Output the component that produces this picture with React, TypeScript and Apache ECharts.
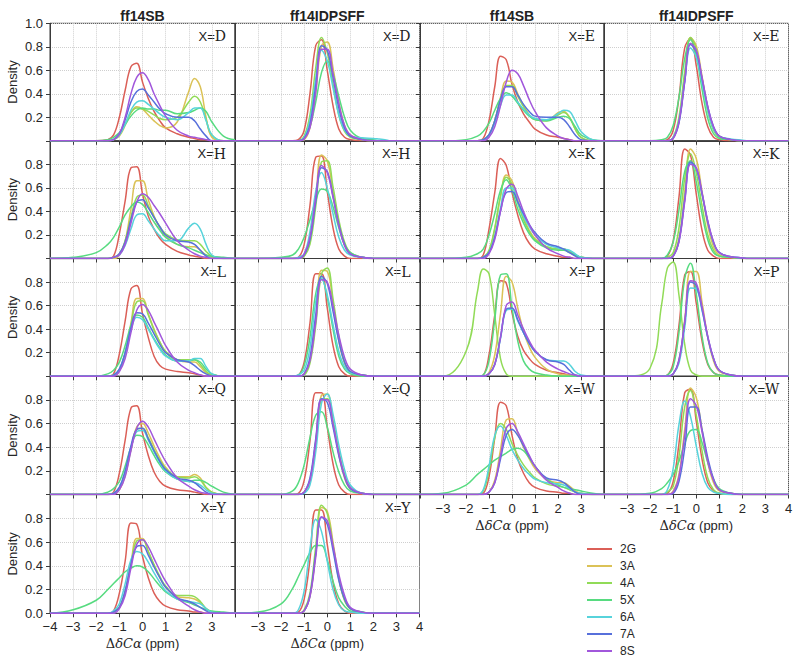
import React, { useEffect, useRef } from "react";
import * as echarts from "echarts";

// x grid (ppm) on which the density curves were read
const GX = [-4, -3, -2, -1.5, -1.25, -1, -0.75, -0.5, -0.25, 0, 0.25, 0.5, 0.75, 1, 1.5, 2, 2.25, 2.5, 2.75, 3, 3.5, 4];
const SERIES_NAMES = ["2G", "3A", "4A", "5X", "6A", "7A", "8S"];
const COLORS = ["#db5f57", "#dbc257", "#91db57", "#57db80", "#57d3db", "#5770db", "#a157db"];
const COLUMN_TITLES = ["ff14SB", "ff14IDPSFF", "ff14SB", "ff14IDPSFF"];
const X_TICKS = [-4, -3, -2, -1, 0, 1, 2, 3, 4];
const Y_TICKS = [0, 0.2, 0.4, 0.6, 0.8, 1.0];

// each: 7 curves in order 2G,3A,4A,5X,6A,7A,8S
const D_SB = [
  [0,0,0,0.01,0.05,0.2,0.43,0.63,0.66,0.5,0.36,0.25,0.17,0.11,0.06,0.03,0.02,0.01,0.01,0,0,0],
  [0,0,0,0,0.01,0.04,0.13,0.24,0.29,0.27,0.22,0.17,0.13,0.11,0.16,0.42,0.53,0.46,0.2,0.03,0,0],
  [0,0,0,0,0.01,0.05,0.14,0.24,0.28,0.27,0.25,0.22,0.19,0.18,0.2,0.33,0.38,0.33,0.18,0.05,0,0],
  [0,0,0,0.01,0.03,0.07,0.14,0.21,0.26,0.28,0.27,0.27,0.26,0.26,0.23,0.24,0.26,0.28,0.25,0.16,0.04,0.01],
  [0,0,0,0,0.01,0.05,0.14,0.26,0.33,0.34,0.31,0.27,0.23,0.2,0.18,0.24,0.28,0.28,0.17,0.05,0,0],
  [0,0,0,0,0.01,0.06,0.18,0.33,0.42,0.44,0.39,0.33,0.27,0.23,0.2,0.2,0.17,0.1,0.04,0,0,0],
  [0,0,0,0,0.01,0.06,0.2,0.4,0.54,0.58,0.52,0.4,0.3,0.21,0.09,0.04,0.03,0.02,0.01,0,0,0],
];
const D_IDP = [
  [0,0,0,0,0.01,0.09,0.4,0.81,0.86,0.6,0.3,0.1,0.03,0.01,0,0,0,0,0,0,0,0],
  [0,0,0,0,0,0.01,0.11,0.41,0.81,0.84,0.62,0.33,0.13,0.05,0.01,0,0,0,0,0,0,0],
  [0,0,0,0,0,0.04,0.22,0.62,0.88,0.75,0.48,0.22,0.08,0.03,0.01,0,0,0,0,0,0,0],
  [0,0,0,0,0,0.03,0.12,0.33,0.58,0.68,0.57,0.38,0.2,0.09,0.02,0.01,0,0,0,0,0,0],
  [0,0,0,0,0,0.03,0.18,0.53,0.77,0.68,0.45,0.22,0.09,0.04,0.025,0.02,0.015,0.01,0,0,0,0],
  [0,0,0,0,0,0.02,0.14,0.47,0.81,0.77,0.54,0.28,0.11,0.04,0.01,0,0,0,0,0,0,0],
  [0,0,0,0,0,0.015,0.11,0.41,0.78,0.78,0.57,0.32,0.13,0.05,0.01,0,0,0,0,0,0,0],
];
const E_SB = [
  [0,0,0,0,0.02,0.17,0.46,0.72,0.69,0.48,0.33,0.23,0.16,0.1,0.05,0.03,0.02,0.01,0,0,0,0],
  [0,0,0,0,0.01,0.05,0.17,0.37,0.51,0.5,0.4,0.3,0.22,0.18,0.17,0.24,0.25,0.2,0.1,0.03,0,0],
  [0,0,0,0,0.01,0.05,0.17,0.35,0.47,0.47,0.38,0.29,0.22,0.18,0.17,0.22,0.24,0.2,0.1,0.03,0,0],
  [0,0,0.01,0.04,0.08,0.15,0.26,0.36,0.41,0.38,0.32,0.26,0.21,0.18,0.17,0.2,0.21,0.19,0.12,0.05,0.01,0],
  [0,0,0,0,0.01,0.05,0.15,0.3,0.39,0.39,0.33,0.27,0.22,0.19,0.18,0.23,0.26,0.25,0.17,0.08,0.01,0],
  [0,0,0,0,0.01,0.05,0.17,0.35,0.46,0.46,0.39,0.31,0.25,0.21,0.2,0.2,0.18,0.12,0.05,0.01,0,0],
  [0,0,0,0,0,0.03,0.12,0.3,0.5,0.6,0.57,0.47,0.35,0.25,0.11,0.04,0.02,0.01,0,0,0,0],
];
const E_IDP = [
  [0,0,0,0,0.01,0.09,0.37,0.79,0.87,0.64,0.32,0.12,0.03,0.01,0,0,0,0,0,0,0,0],
  [0,0,0,0,0,0.03,0.17,0.54,0.88,0.81,0.55,0.28,0.11,0.04,0.01,0,0,0,0,0,0,0],
  [0,0,0,0,0,0.03,0.2,0.59,0.88,0.78,0.51,0.25,0.09,0.03,0.01,0,0,0,0,0,0,0],
  [0,0,0,0.01,0.03,0.13,0.37,0.7,0.86,0.72,0.44,0.19,0.06,0.02,0.01,0,0,0,0,0,0,0],
  [0,0,0,0,0,0.03,0.17,0.51,0.79,0.71,0.49,0.26,0.1,0.04,0.015,0.005,0,0,0,0,0,0],
  [0,0,0,0,0,0.02,0.15,0.5,0.82,0.76,0.53,0.29,0.12,0.04,0.01,0,0,0,0,0,0,0],
  [0,0,0,0,0,0.02,0.16,0.51,0.83,0.77,0.54,0.29,0.12,0.04,0.01,0,0,0,0,0,0,0],
];
const H_SB = [
  [0,0,0,0,0.02,0.21,0.49,0.77,0.78,0.55,0.36,0.25,0.17,0.12,0.06,0.03,0.02,0.01,0,0,0,0],
  [0,0,0,0,0,0.03,0.15,0.42,0.66,0.66,0.5,0.36,0.26,0.19,0.12,0.1,0.1,0.07,0.03,0.01,0,0],
  [0,0,0,0,0.01,0.04,0.15,0.35,0.52,0.54,0.45,0.35,0.27,0.21,0.16,0.15,0.15,0.12,0.06,0.02,0,0],
  [0,0.01,0.05,0.12,0.18,0.27,0.37,0.44,0.48,0.46,0.39,0.31,0.24,0.18,0.12,0.09,0.07,0.05,0.03,0.02,0.01,0],
  [0,0,0,0,0.01,0.03,0.11,0.25,0.37,0.38,0.32,0.25,0.19,0.15,0.15,0.26,0.3,0.25,0.12,0.03,0,0],
  [0,0,0,0,0.01,0.04,0.14,0.33,0.48,0.5,0.43,0.35,0.27,0.2,0.15,0.14,0.12,0.07,0.02,0,0,0],
  [0,0,0,0,0.01,0.03,0.12,0.3,0.48,0.55,0.52,0.45,0.38,0.3,0.15,0.07,0.04,0.02,0.01,0,0,0],
];
const H_IDP = [
  [0,0,0,0,0.01,0.12,0.45,0.86,0.87,0.57,0.26,0.08,0.02,0,0,0,0,0,0,0,0,0],
  [0,0,0,0,0,0.02,0.15,0.51,0.88,0.83,0.57,0.29,0.11,0.04,0.01,0,0,0,0,0,0,0],
  [0,0,0,0,0,0.02,0.12,0.44,0.82,0.83,0.61,0.33,0.14,0.05,0.01,0,0,0,0,0,0,0],
  [0,0,0.01,0.03,0.08,0.18,0.33,0.49,0.59,0.57,0.44,0.26,0.12,0.05,0.01,0,0,0,0,0,0,0],
  [0,0,0,0,0.01,0.04,0.23,0.57,0.73,0.6,0.38,0.18,0.07,0.03,0.01,0,0,0,0,0,0,0],
  [0,0,0,0,0,0.03,0.16,0.48,0.77,0.74,0.53,0.29,0.12,0.04,0.01,0,0,0,0,0,0,0],
  [0,0,0,0,0,0.04,0.18,0.52,0.79,0.73,0.52,0.28,0.11,0.04,0.01,0,0,0,0,0,0,0],
];
const K_SB = [
  [0,0,0,0,0.03,0.25,0.56,0.85,0.79,0.56,0.37,0.22,0.13,0.08,0.04,0.02,0.01,0.01,0,0,0,0],
  [0,0,0,0,0.01,0.06,0.25,0.53,0.71,0.66,0.5,0.35,0.24,0.17,0.1,0.08,0.08,0.06,0.03,0.01,0,0],
  [0,0,0,0,0.01,0.07,0.26,0.53,0.69,0.63,0.47,0.33,0.23,0.16,0.1,0.08,0.08,0.06,0.03,0.01,0,0],
  [0,0,0.01,0.04,0.08,0.2,0.38,0.58,0.67,0.58,0.42,0.3,0.21,0.15,0.09,0.07,0.07,0.05,0.03,0.01,0,0],
  [0,0,0,0,0.01,0.05,0.19,0.43,0.6,0.6,0.48,0.36,0.27,0.2,0.12,0.09,0.08,0.07,0.04,0.01,0,0],
  [0,0,0,0,0.01,0.05,0.18,0.4,0.56,0.57,0.48,0.38,0.29,0.22,0.13,0.1,0.08,0.05,0.02,0,0,0],
  [0,0,0,0,0,0.04,0.16,0.4,0.59,0.63,0.53,0.4,0.29,0.2,0.09,0.04,0.02,0.01,0,0,0,0],
];
const K_IDP = [
  [0,0,0,0,0.02,0.15,0.52,0.93,0.88,0.55,0.24,0.07,0.02,0,0,0,0,0,0,0,0,0],
  [0,0,0,0,0,0.03,0.17,0.57,0.93,0.85,0.57,0.28,0.1,0.03,0.01,0,0,0,0,0,0,0],
  [0,0,0,0,0.01,0.05,0.26,0.68,0.89,0.73,0.45,0.2,0.07,0.02,0.01,0,0,0,0,0,0,0],
  [0,0,0,0,0.03,0.14,0.41,0.74,0.83,0.65,0.38,0.16,0.05,0.02,0.01,0,0,0,0,0,0,0],
  [0,0,0,0,0,0.02,0.15,0.5,0.81,0.76,0.55,0.31,0.13,0.05,0.015,0.005,0,0,0,0,0,0],
  [0,0,0,0,0,0.02,0.15,0.5,0.82,0.77,0.55,0.31,0.14,0.05,0.015,0.005,0,0,0,0,0,0],
  [0,0,0,0,0,0.02,0.14,0.48,0.8,0.77,0.56,0.32,0.14,0.05,0.015,0.005,0,0,0,0,0,0],
];
const L_SB = [
  [0,0,0,0,0.02,0.19,0.47,0.74,0.77,0.53,0.33,0.17,0.09,0.06,0.04,0.03,0.02,0.01,0,0,0,0],
  [0,0,0,0,0.01,0.05,0.2,0.45,0.66,0.66,0.53,0.4,0.29,0.21,0.14,0.12,0.12,0.08,0.03,0.01,0,0],
  [0,0,0,0,0.01,0.05,0.19,0.43,0.63,0.64,0.52,0.39,0.29,0.21,0.14,0.14,0.14,0.1,0.04,0.01,0,0],
  [0,0,0,0.02,0.05,0.12,0.26,0.43,0.52,0.5,0.41,0.32,0.24,0.18,0.13,0.13,0.14,0.12,0.06,0.02,0,0],
  [0,0,0,0,0.01,0.06,0.2,0.39,0.5,0.48,0.4,0.31,0.23,0.17,0.13,0.13,0.15,0.15,0.08,0.02,0,0],
  [0,0,0,0,0.01,0.06,0.2,0.41,0.54,0.53,0.45,0.36,0.27,0.2,0.14,0.12,0.09,0.05,0.02,0,0,0],
  [0,0,0,0,0,0.04,0.15,0.37,0.56,0.61,0.56,0.46,0.36,0.26,0.12,0.05,0.03,0.01,0,0,0,0],
];
const L_IDP = [
  [0,0,0,0,0.01,0.12,0.45,0.87,0.87,0.58,0.26,0.08,0.02,0,0,0,0,0,0,0,0,0],
  [0,0,0,0,0,0.02,0.13,0.48,0.9,0.89,0.62,0.3,0.11,0.03,0.01,0,0,0,0,0,0,0],
  [0,0,0,0,0,0.01,0.11,0.43,0.87,0.92,0.66,0.34,0.12,0.04,0.01,0,0,0,0,0,0,0],
  [0,0,0,0,0.01,0.09,0.33,0.7,0.83,0.67,0.4,0.17,0.06,0.02,0,0,0,0,0,0,0,0],
  [0,0,0,0,0.01,0.05,0.24,0.63,0.83,0.69,0.44,0.21,0.08,0.03,0.01,0,0,0,0,0,0,0],
  [0,0,0,0,0,0.02,0.16,0.52,0.85,0.79,0.55,0.3,0.12,0.04,0.01,0,0,0,0,0,0,0],
  [0,0,0,0,0,0.02,0.13,0.46,0.82,0.8,0.6,0.35,0.16,0.06,0.01,0,0,0,0,0,0,0],
];
const P_SB = [
  [0,0,0,0,0.01,0.18,0.52,0.81,0.79,0.54,0.34,0.22,0.15,0.1,0.05,0.03,0.02,0.01,0,0,0,0],
  [0,0,0,0,0,0.03,0.18,0.53,0.85,0.8,0.58,0.38,0.25,0.16,0.06,0.02,0.01,0.01,0,0,0,0],
  [0,0,0.21,0.72,0.91,0.87,0.52,0.15,0.02,0,0,0,0,0,0,0,0,0,0,0,0,0],
  [0,0,0,0,0.01,0.13,0.48,0.86,0.87,0.58,0.3,0.13,0.06,0.03,0.01,0,0,0,0,0,0,0],
  [0,0,0,0,0,0.02,0.1,0.32,0.56,0.57,0.47,0.37,0.28,0.21,0.14,0.13,0.13,0.1,0.04,0.01,0,0],
  [0,0,0,0,0,0.02,0.1,0.33,0.57,0.58,0.48,0.37,0.28,0.21,0.14,0.12,0.1,0.05,0.01,0,0,0],
  [0,0,0,0,0,0.02,0.1,0.33,0.6,0.63,0.52,0.4,0.3,0.22,0.12,0.06,0.04,0.02,0.01,0,0,0],
];
const P_IDP = [
  [0,0,0,0,0.01,0.11,0.43,0.86,0.89,0.62,0.3,0.1,0.03,0.01,0,0,0,0,0,0,0,0],
  [0,0,0,0,0,0.02,0.13,0.48,0.89,0.89,0.63,0.33,0.13,0.04,0.01,0,0,0,0,0,0,0],
  [0,0,0.07,0.61,0.92,0.97,0.69,0.27,0.05,0.01,0,0,0,0,0,0,0,0,0,0,0,0],
  [0,0,0,0,0.01,0.08,0.37,0.83,0.96,0.7,0.34,0.11,0.03,0.01,0,0,0,0,0,0,0,0],
  [0,0,0,0,0,0.02,0.11,0.41,0.75,0.74,0.56,0.33,0.15,0.05,0.01,0,0,0,0,0,0,0],
  [0,0,0,0,0,0.02,0.14,0.46,0.8,0.77,0.57,0.33,0.15,0.05,0.01,0,0,0,0,0,0,0],
  [0,0,0,0,0,0.02,0.13,0.46,0.81,0.79,0.59,0.34,0.15,0.05,0.01,0,0,0,0,0,0,0],
];
const Q_SB = [
  [0,0,0,0,0.02,0.18,0.46,0.73,0.75,0.52,0.33,0.19,0.11,0.07,0.04,0.03,0.02,0.01,0,0,0,0],
  [0,0,0,0,0.01,0.04,0.16,0.38,0.57,0.6,0.52,0.41,0.31,0.23,0.15,0.15,0.17,0.14,0.06,0.02,0,0],
  [0,0,0,0,0.01,0.05,0.17,0.38,0.55,0.56,0.48,0.38,0.29,0.22,0.15,0.14,0.15,0.12,0.06,0.02,0,0],
  [0,0,0,0.02,0.05,0.11,0.24,0.4,0.5,0.49,0.42,0.33,0.25,0.19,0.13,0.11,0.12,0.12,0.1,0.07,0.02,0],
  [0,0,0,0,0.01,0.06,0.19,0.39,0.53,0.54,0.46,0.36,0.27,0.2,0.13,0.11,0.1,0.08,0.04,0.01,0,0],
  [0,0,0,0,0.01,0.06,0.2,0.41,0.55,0.56,0.47,0.37,0.28,0.21,0.14,0.12,0.1,0.06,0.02,0,0,0],
  [0,0,0,0,0,0.04,0.15,0.37,0.56,0.62,0.57,0.47,0.37,0.28,0.14,0.07,0.04,0.02,0.01,0,0,0],
];
const Q_IDP = [
  [0,0,0,0,0.01,0.12,0.45,0.86,0.86,0.57,0.26,0.08,0.02,0,0,0,0,0,0,0,0,0],
  [0,0,0,0,0,0.02,0.12,0.45,0.84,0.85,0.62,0.34,0.14,0.05,0.01,0,0,0,0,0,0,0],
  [0,0,0,0,0,0.02,0.11,0.43,0.8,0.81,0.62,0.37,0.17,0.06,0.01,0,0,0,0,0,0,0],
  [0,0,0,0.03,0.1,0.25,0.48,0.67,0.7,0.57,0.36,0.19,0.08,0.03,0.01,0,0,0,0,0,0,0],
  [0,0,0,0,0,0.01,0.08,0.36,0.77,0.85,0.68,0.42,0.21,0.08,0.01,0,0,0,0,0,0,0],
  [0,0,0,0,0,0.02,0.14,0.47,0.81,0.78,0.57,0.33,0.15,0.05,0.01,0,0,0,0,0,0,0],
  [0,0,0,0,0,0.02,0.12,0.44,0.8,0.8,0.6,0.35,0.16,0.06,0.01,0,0,0,0,0,0,0],
];
const W_SB = [
  [0,0,0,0,0.01,0.15,0.48,0.78,0.75,0.5,0.3,0.18,0.1,0.06,0.03,0.02,0.01,0.01,0,0,0,0],
  [0,0,0,0,0,0.02,0.12,0.38,0.63,0.64,0.52,0.4,0.3,0.22,0.13,0.1,0.1,0.07,0.03,0.01,0,0],
  [0,0,0,0,0.03,0.2,0.48,0.6,0.55,0.43,0.33,0.25,0.19,0.14,0.09,0.07,0.06,0.04,0.02,0.01,0,0],
  [0,0.01,0.08,0.17,0.21,0.25,0.29,0.32,0.35,0.38,0.39,0.37,0.31,0.24,0.13,0.08,0.06,0.05,0.04,0.03,0.01,0],
  [0,0,0,0,0.04,0.24,0.5,0.58,0.5,0.38,0.29,0.22,0.17,0.13,0.1,0.09,0.08,0.05,0.02,0.01,0,0],
  [0,0,0,0,0,0.02,0.1,0.3,0.5,0.55,0.5,0.41,0.32,0.24,0.14,0.12,0.1,0.06,0.02,0,0,0],
  [0,0,0,0,0,0.02,0.1,0.33,0.56,0.6,0.53,0.43,0.33,0.24,0.12,0.06,0.03,0.01,0,0,0,0],
];
const W_IDP = [
  [0,0,0,0,0.01,0.11,0.43,0.86,0.89,0.62,0.3,0.1,0.03,0.01,0,0,0,0,0,0,0,0],
  [0,0,0,0,0,0.03,0.17,0.55,0.9,0.82,0.55,0.27,0.1,0.03,0.01,0,0,0,0,0,0,0],
  [0,0,0,0,0.02,0.07,0.32,0.74,0.88,0.67,0.37,0.14,0.04,0.01,0,0,0,0,0,0,0,0],
  [0,0,0.01,0.05,0.1,0.17,0.28,0.43,0.54,0.55,0.44,0.27,0.13,0.05,0.01,0,0,0,0,0,0,0],
  [0,0,0,0,0.04,0.22,0.59,0.79,0.66,0.41,0.18,0.06,0.02,0.01,0,0,0,0,0,0,0,0],
  [0,0,0,0,0,0.01,0.11,0.39,0.74,0.74,0.55,0.31,0.13,0.04,0.01,0,0,0,0,0,0,0],
  [0,0,0,0,0,0.02,0.15,0.5,0.81,0.75,0.53,0.28,0.12,0.04,0.01,0,0,0,0,0,0,0],
];
const Y_SB = [
  [0,0,0,0,0.02,0.17,0.44,0.76,0.75,0.48,0.3,0.17,0.1,0.06,0.03,0.02,0.01,0.01,0,0,0,0],
  [0,0,0,0,0.01,0.05,0.18,0.42,0.63,0.63,0.52,0.4,0.3,0.22,0.14,0.13,0.12,0.09,0.04,0.01,0,0],
  [0,0,0,0,0.01,0.05,0.18,0.41,0.61,0.62,0.52,0.41,0.31,0.23,0.15,0.15,0.14,0.1,0.04,0.01,0,0],
  [0,0.03,0.11,0.2,0.25,0.3,0.35,0.38,0.4,0.39,0.35,0.29,0.23,0.18,0.12,0.09,0.07,0.05,0.03,0.02,0.01,0],
  [0,0,0,0,0.02,0.08,0.25,0.45,0.52,0.5,0.43,0.34,0.26,0.19,0.12,0.1,0.09,0.08,0.04,0.01,0,0],
  [0,0,0,0,0.01,0.05,0.19,0.41,0.56,0.57,0.49,0.39,0.3,0.22,0.13,0.1,0.08,0.05,0.02,0,0,0],
  [0,0,0,0,0,0.04,0.15,0.38,0.58,0.62,0.56,0.46,0.36,0.27,0.13,0.06,0.03,0.01,0,0,0,0],
];
const Y_IDP = [
  [0,0,0,0,0.01,0.12,0.45,0.87,0.87,0.58,0.26,0.08,0.02,0,0,0,0,0,0,0,0,0],
  [0,0,0,0,0,0.02,0.14,0.5,0.89,0.86,0.6,0.3,0.11,0.04,0.01,0,0,0,0,0,0,0],
  [0,0,0,0,0,0.03,0.17,0.56,0.91,0.84,0.57,0.29,0.11,0.04,0.01,0,0,0,0,0,0,0],
  [0,0.01,0.08,0.21,0.31,0.41,0.51,0.57,0.57,0.45,0.27,0.13,0.06,0.02,0.01,0,0,0,0,0,0,0],
  [0,0,0,0,0.03,0.19,0.54,0.79,0.69,0.44,0.2,0.07,0.02,0.01,0,0,0,0,0,0,0,0],
  [0,0,0,0,0,0.02,0.15,0.5,0.81,0.75,0.53,0.28,0.12,0.04,0.01,0,0,0,0,0,0,0],
  [0,0,0,0,0,0.02,0.14,0.47,0.81,0.78,0.57,0.33,0.15,0.05,0.01,0,0,0,0,0,0,0],
];

const PANELS = [
  { row: 0, col: 0, label: "D", curves: D_SB },
  { row: 0, col: 1, label: "D", curves: D_IDP },
  { row: 0, col: 2, label: "E", curves: E_SB },
  { row: 0, col: 3, label: "E", curves: E_IDP },
  { row: 1, col: 0, label: "H", curves: H_SB },
  { row: 1, col: 1, label: "H", curves: H_IDP },
  { row: 1, col: 2, label: "K", curves: K_SB },
  { row: 1, col: 3, label: "K", curves: K_IDP },
  { row: 2, col: 0, label: "L", curves: L_SB },
  { row: 2, col: 1, label: "L", curves: L_IDP },
  { row: 2, col: 2, label: "P", curves: P_SB },
  { row: 2, col: 3, label: "P", curves: P_IDP },
  { row: 3, col: 0, label: "Q", curves: Q_SB },
  { row: 3, col: 1, label: "Q", curves: Q_IDP },
  { row: 3, col: 2, label: "W", curves: W_SB },
  { row: 3, col: 3, label: "W", curves: W_IDP },
  { row: 4, col: 0, label: "Y", curves: Y_SB },
  { row: 4, col: 1, label: "Y", curves: Y_IDP },
];

// layout (px)
const COL_L = [50, 235, 420, 604];
const COL_R = [235, 419.5, 604, 788.5];
const ROW_T = [23.3, 140.8, 258.5, 376.2, 494.5, 613.3];

const FONT = "Liberation Sans";
const AXIS_COLOR = "#3a3a3a";
const TEXT_COLOR = "#262626";

const fmtNum = (v: number) => (v < 0 ? "\u2212" + Math.abs(v) : String(v));

function buildOption() {
  const grid: any[] = [];
  const xAxis: any[] = [];
  const yAxis: any[] = [];
  const series: any[] = [];
  const graphic: any[] = [];

  PANELS.forEach((p, i) => {
    const left = COL_L[p.col];
    const width = COL_R[p.col] - left;
    const top = ROW_T[p.row];
    const height = ROW_T[p.row + 1] - top;
    grid.push({ left, top, width, height, show: true, borderColor: AXIS_COLOR, borderWidth: 1, backgroundColor: "transparent", containLabel: false });

    const showX = (p.col < 2 && p.row === 4) || (p.col >= 2 && p.row === 3);
    const xHidden = new Set<number>();
    if (p.col === 0) xHidden.add(4);
    if (p.col >= 1) xHidden.add(-4);
    if (p.col === 2) xHidden.add(4);

    xAxis.push({
      gridIndex: i,
      type: "value",
      min: X_TICKS[0],
      max: X_TICKS[X_TICKS.length - 1],
      interval: 1,
      axisLine: { show: true, onZero: false, lineStyle: { color: AXIS_COLOR, width: 1 } },
      axisTick: { show: true, length: 4, lineStyle: { color: AXIS_COLOR, width: 1 } },
      splitLine: { show: true, lineStyle: { type: "dotted", color: "#cfcfcf", width: 1 } },
      axisLabel: {
        show: showX,
        margin: 7,
        color: TEXT_COLOR,
        fontSize: 13,
        fontFamily: FONT,
        formatter: (v: number) => (xHidden.has(v) ? "" : fmtNum(v)),
      },
      name: showX ? "{d|\u0394}{i|\u03b4C\u03b1} (ppm)" : "",
      nameLocation: "middle",
      nameGap: 24,
      nameMoveOverlap: false,
      nameTextStyle: {
        color: TEXT_COLOR,
        fontSize: 13,
        fontFamily: FONT,
        rich: {
          d: { fontSize: 13, fontFamily: "DejaVu Serif", color: TEXT_COLOR },
          i: { fontSize: 13, fontFamily: "DejaVu Serif", fontStyle: "italic", color: TEXT_COLOR },
        },
      },
    });

    const showY = p.col === 0;
    yAxis.push({
      gridIndex: i,
      type: "value",
      min: Y_TICKS[0],
      max: Y_TICKS[Y_TICKS.length - 1],
      interval: 0.2,
      axisLine: { show: true, onZero: false, lineStyle: { color: AXIS_COLOR, width: 1 } },
      axisTick: { show: true, length: 4, lineStyle: { color: AXIS_COLOR, width: 1 } },
      splitLine: { show: true, lineStyle: { type: "dotted", color: "#cfcfcf", width: 1 } },
      axisLabel: {
        show: showY,
        margin: 7,
        color: TEXT_COLOR,
        fontSize: 13,
        fontFamily: FONT,
        formatter: (v: number) => {
          const r = Math.round(v * 10) / 10;
          if (r === 0 && p.row !== 4) return "";
          if (r === 1 && p.row !== 0) return "";
          return r.toFixed(1);
        },
      },
      name: showY ? "Density" : "",
      nameLocation: "middle",
      nameGap: 31,
      nameMoveOverlap: false,
      nameTextStyle: { color: TEXT_COLOR, fontSize: 13, fontFamily: FONT },
    });

    p.curves.forEach((vals, k) => {
      series.push({
        type: "line",
        name: SERIES_NAMES[k],
        xAxisIndex: i,
        yAxisIndex: i,
        data: GX.map((x, j) => [x, vals[j] ?? 0]),
        smooth: 0.4,
        symbol: "none",
        showSymbol: false,
        silent: true,
        clip: true,
        lineStyle: { width: 1.5, color: COLORS[k] },
        itemStyle: { color: COLORS[k] },
      });
    });

    graphic.push({
      type: "text",
      x: COL_R[p.col] - 9,
      y: top + 13,
      silent: true,
      style: {
        text: "{a|X=}{b|" + p.label + "}",
        align: "right",
        verticalAlign: "middle",
        rich: {
          a: { fontSize: 13, fontFamily: FONT, fill: "#222" },
          b: { fontSize: 14, fontFamily: "DejaVu Serif", fill: "#222" },
        },
      },
    });
  });

  COLUMN_TITLES.forEach((t, c) => {
    graphic.push({
      type: "text",
      x: (COL_L[c] + COL_R[c]) / 2,
      y: 15.5,
      silent: true,
      style: { text: t, fontSize: 14, fontWeight: "bold", fontFamily: FONT, fill: "#222", align: "center", verticalAlign: "middle" },
    });
  });

  return {
    animation: false,
    backgroundColor: "#ffffff",
    textStyle: { fontFamily: FONT },
    grid,
    xAxis,
    yAxis,
    series,
    graphic,
    legend: {
      data: SERIES_NAMES,
      orient: "vertical",
      left: 587,
      top: 543,
      icon: "rect",
      itemWidth: 25,
      itemHeight: 2,
      itemGap: 5,
      padding: 0,
      selectedMode: false,
      textStyle: { fontSize: 12, lineHeight: 12, color: TEXT_COLOR, fontFamily: FONT, padding: [0, 0, 0, 3] },
    },
  };
}

export default function App() {
  const ref = useRef<HTMLDivElement>(null);
  useEffect(() => {
    if (!ref.current) return;
    const chart = echarts.init(ref.current, null, { renderer: "svg" });
    chart.setOption(buildOption() as any);
    return () => chart.dispose();
  }, []);
  return <div ref={ref} style={{ position: "fixed", left: 0, top: 0, width: 800, height: 662, background: "#fff" }} />;
}
